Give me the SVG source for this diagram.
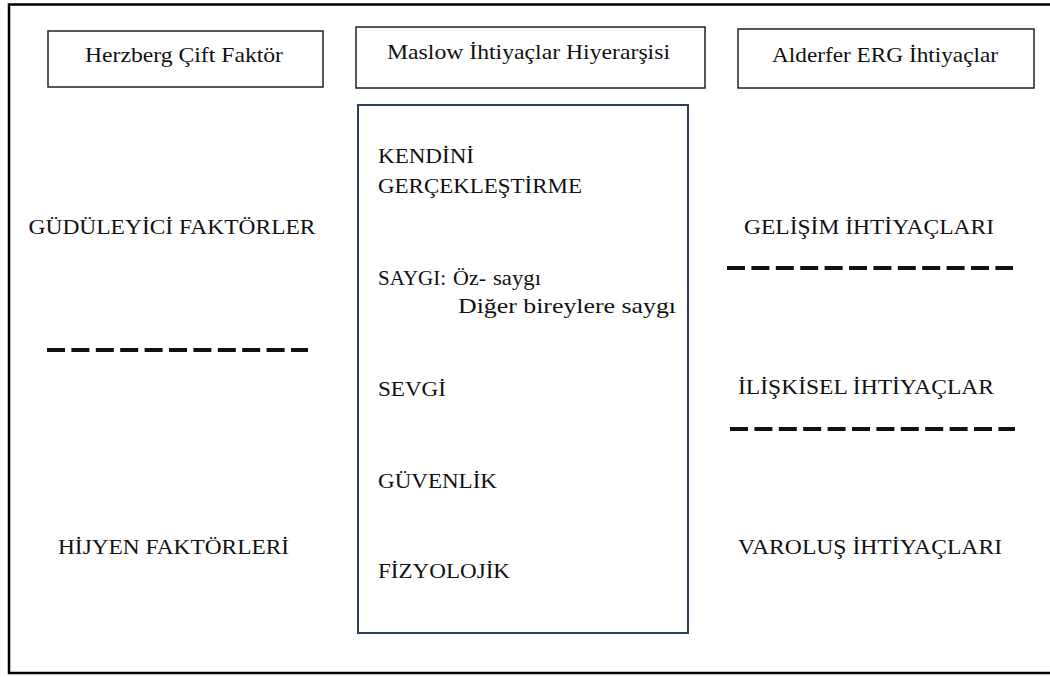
<svg xmlns="http://www.w3.org/2000/svg" width="1050" height="677" viewBox="0 0 1050 677">
  <style>
    .frame { fill: none; stroke: #000; stroke-width: 2.5; }
    .hdr { fill: #fff; stroke: #222; stroke-width: 1.5; }
    .pyr { fill: #fff; stroke: #2e3d5c; stroke-width: 2; }
    .t { font-family: 'Liberation Serif', 'DejaVu Serif', serif; font-size: 21px; fill: #111; }
    .c { text-anchor: middle; }
    .dash { stroke: #111; stroke-width: 4; stroke-dasharray: 18 6.4; fill: none; }
  </style>
  <rect width="1050" height="677" fill="#fff"/>
  <!-- outer frame (right edge runs past the canvas) -->
  <path class="frame" d="M1056 4.5 H9 V673 H1056"/>

  <g id="herzberg-header">
    <rect class="hdr" x="48" y="31" width="275" height="56"/>
    <text class="t c" x="184" y="62" textLength="198" lengthAdjust="spacingAndGlyphs">Herzberg Çift Faktör</text>
  </g>
  <g id="maslow-header">
    <rect class="hdr" x="356" y="27" width="349" height="61"/>
    <text class="t c" x="528.5" y="59" textLength="283" lengthAdjust="spacingAndGlyphs">Maslow İhtiyaçlar Hiyerarşisi</text>
  </g>
  <g id="alderfer-header">
    <rect class="hdr" x="738" y="29" width="296" height="59"/>
    <text class="t c" x="885" y="62" textLength="226" lengthAdjust="spacingAndGlyphs">Alderfer ERG İhtiyaçlar</text>
  </g>

  <g id="maslow-levels">
    <rect class="pyr" x="358" y="105" width="330" height="528"/>
    <text class="t" x="378" y="163" textLength="96" lengthAdjust="spacingAndGlyphs">KENDİNİ</text>
    <text class="t" x="378" y="193" textLength="204" lengthAdjust="spacingAndGlyphs">GERÇEKLEŞTİRME</text>
    <text class="t" x="378" y="285" textLength="68" lengthAdjust="spacingAndGlyphs">SAYGI:</text>
    <text class="t" x="453" y="285" textLength="33" lengthAdjust="spacingAndGlyphs">Öz-</text>
    <text class="t" x="493" y="285" textLength="48" lengthAdjust="spacingAndGlyphs">saygı</text>
    <text class="t" x="458" y="313" textLength="218" lengthAdjust="spacingAndGlyphs">Diğer bireylere saygı</text>
    <text class="t" x="378" y="396" textLength="68" lengthAdjust="spacingAndGlyphs">SEVGİ</text>
    <text class="t" x="378" y="488" textLength="119" lengthAdjust="spacingAndGlyphs">GÜVENLİK</text>
    <text class="t" x="378" y="578" textLength="132" lengthAdjust="spacingAndGlyphs">FİZYOLOJİK</text>
  </g>

  <g id="herzberg-factors">
    <text class="t c" x="172" y="234" textLength="287" lengthAdjust="spacingAndGlyphs">GÜDÜLEYİCİ FAKTÖRLER</text>
    <text class="t c" x="173.5" y="554" textLength="231" lengthAdjust="spacingAndGlyphs">HİJYEN FAKTÖRLERİ</text>
  </g>

  <g id="alderfer-needs">
    <text class="t c" x="869" y="234" textLength="250" lengthAdjust="spacingAndGlyphs">GELİŞİM İHTİYAÇLARI</text>
    <text class="t c" x="866" y="394" textLength="256" lengthAdjust="spacingAndGlyphs">İLİŞKİSEL İHTİYAÇLAR</text>
    <text class="t c" x="870" y="554" textLength="264" lengthAdjust="spacingAndGlyphs">VAROLUŞ İHTİYAÇLARI</text>
  </g>

  <g id="separators">
    <line class="dash" x1="47" y1="350" x2="308" y2="350"/>
    <line class="dash" x1="727" y1="268" x2="1013" y2="268"/>
    <line class="dash" x1="730" y1="429" x2="1015" y2="429"/>
  </g>
</svg>
